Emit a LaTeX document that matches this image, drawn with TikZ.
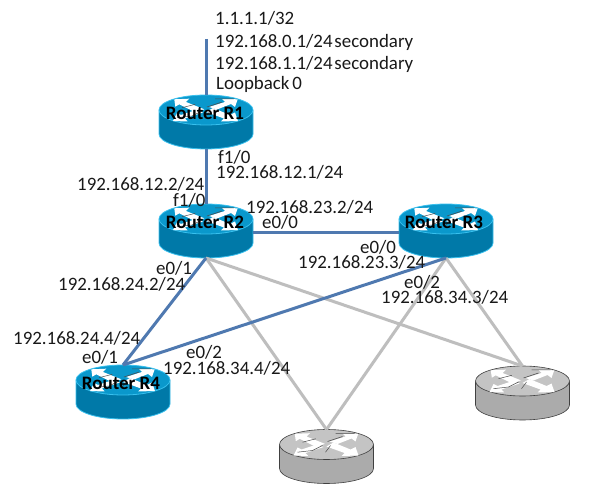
\documentclass[tikz,border=0pt]{standalone}
\usepackage{fontspec}
\setmainfont{Carlito}
\definecolor{linkblue}{HTML}{4F79B0}
\definecolor{linkgray}{HTML}{BEBEBE}
\definecolor{blueside}{HTML}{0079A8}
\definecolor{bluetop}{HTML}{0A98CC}
\definecolor{blueedge}{HTML}{38C0EE}
\definecolor{grayside}{HTML}{ABABAB}
\definecolor{graytop}{HTML}{C4C4C4}
\definecolor{grayedge}{HTML}{404040}
\tikzset{
  x=1pt,y=1pt,
  bluelink/.style={draw=linkblue,line width=3pt},
  graylink/.style={draw=linkgray,line width=3pt},
  addr/.style={font=\fontsize{18.9}{21}\selectfont,inner sep=0pt,anchor=base west,text=black!90,yshift=-2pt},
  rlabel/.style={font=\fontsize{19}{21}\selectfont\bfseries,inner sep=0pt,text=black},
  routerhit/.style={minimum width=94pt,minimum height=54pt,inner sep=0pt,outer sep=0pt,draw=none},
}
\newcommand{\routerart}[6]{%
  \begin{scope}[shift={(#1,#2)}]
    \fill[#3] (-47,11.5) -- (-47,-12) arc[start angle=180,end angle=360,x radius=47,y radius=15] -- (47,11.5) -- cycle;
    \draw[#5,line width=#6] (-47,11.5) -- (-47,-12) arc[start angle=180,end angle=360,x radius=47,y radius=15] -- (47,11.5);
    \fill[#4] (0,12) ellipse[x radius=47,y radius=15];
    \draw[#5,line width=#6] (0,12) ellipse[x radius=47,y radius=15];
    \begin{scope}[shift={(0,12)}]
      \fill[white] (-31.7,10.7) -- (-16.7,11.3) -- (-20,8) -- (-1.7,0.7) -- (-10,-2.7) -- (-26.7,5.7) -- (-30.7,3.3) -- cycle;
      \fill[white] (31.7,10.7) -- (16,11) -- (19,8) -- (3,3) -- (11,0.5) -- (25,6) -- (29,3) -- cycle;
      \fill[white] (-33,-11) -- (-18.3,-11.5) -- (-21,-8.5) -- (-3,-2.5) -- (-10,0) -- (-25,-5) -- (-29,-3) -- cycle;
      \fill[white] (32,-11) -- (15,-11.5) -- (18,-8.5) -- (0,-2) -- (7,2) -- (24,-5) -- (29,-2.5) -- cycle;
      \draw[black!70,line width=0.5pt] (-24,2.3) -- (-10.7,5.7) (9,11) -- (28,11) (1,3) -- (16,8)
        (-29,-7.7) -- (-14,-6) -- (-4,-1) (-1,-7.7) -- (4,-1);
    \end{scope}
  \end{scope}}
\begin{document}
\begin{tikzpicture}
\useasboundingbox (0,0) rectangle (595,-486);
\fill[white] (0,0) rectangle (595,-486);
\routerart{206}{-122}{blueside}{bluetop}{blueedge}{0.8pt}
\routerart{206}{-231}{blueside}{bluetop}{blueedge}{0.8pt}
\routerart{446}{-231}{blueside}{bluetop}{blueedge}{0.8pt}
\routerart{123}{-392}{blueside}{bluetop}{blueedge}{0.8pt}
\routerart{326.5}{-456.5}{grayside}{graytop}{grayedge}{0.6pt}
\routerart{522.5}{-393}{grayside}{graytop}{grayedge}{0.6pt}
\node[routerhit] (r1) at (206,-122) {};
\node[routerhit] (r2) at (206,-231) {};
\node[routerhit] (r3) at (446,-231) {};
\node[routerhit] (r4) at (123,-392) {};
\node[routerhit] (g1) at (326.5,-456.5) {};
\node[routerhit] (g2) at (522.5,-393) {};
\coordinate (lo) at (206,-39);
\draw[graylink] (r2.south) -- (g1.north);
\draw[graylink] (r2.south) -- (g2.north);
\draw[graylink] (r3.south) -- (g1.north);
\draw[graylink] (r3.south) -- (g2.north);
\draw[bluelink] (lo) -- (r1.north);
\draw[bluelink] (r1.south) -- (r2.north);
\draw[bluelink] ([yshift=-1.5pt]r2.east) -- ([yshift=-1.5pt]r3.west);
\draw[bluelink] (r2.south) -- (r4.north);
\draw[bluelink] (r3.south) -- (r4.north);
\node[rlabel] (l1) at (205,-113) {Router R1};
\node[rlabel] (l2) at (205,-222) {Router R2};
\node[rlabel] (l3) at (444,-222) {Router R3};
\node[rlabel] (l4) at (121,-383) {Router R4};
\node[addr] (t1) at (215,-23) {1.1.1.1/32};
\node[addr] (t2) at (215,-46) {\spaceskip=0.1em 192.168.0.1/24 secondary};
\node[addr] (t3) at (215,-68) {\spaceskip=0.1em 192.168.1.1/24 secondary};
\node[addr] (t4) at (216,-88) {\spaceskip=0.15em Loopback 0};
\node[addr] (t5) at (218,-162) {f1/0};
\node[addr] (t6) at (216,-177) {192.168.12.1/24};
\node[addr] (t7) at (77,-189) {192.168.12.2/24};
\node[addr] (t8) at (173,-205) {f1/0};
\node[addr] (t9) at (246,-212) {192.168.23.2/24};
\node[addr] (t10) at (262,-227) {e0/0};
\node[addr] (t11) at (360,-252) {e0/0};
\node[addr] (t12) at (298,-267) {192.168.23.3/24};
\node[addr] (t13) at (156,-273) {e0/1};
\node[addr] (t14) at (58,-289) {192.168.24.2/24};
\node[addr] (t15) at (404,-287) {e0/2};
\node[addr] (t16) at (381,-302) {192.168.34.3/24};
\node[addr] (t17) at (13,-343) {192.168.24.4/24};
\node[addr] (t18) at (82,-362) {e0/1};
\node[addr] (t19) at (186,-357) {e0/2};
\node[addr] (t20) at (163,-373) {192.168.34.4/24};
\end{tikzpicture}
\end{document}
